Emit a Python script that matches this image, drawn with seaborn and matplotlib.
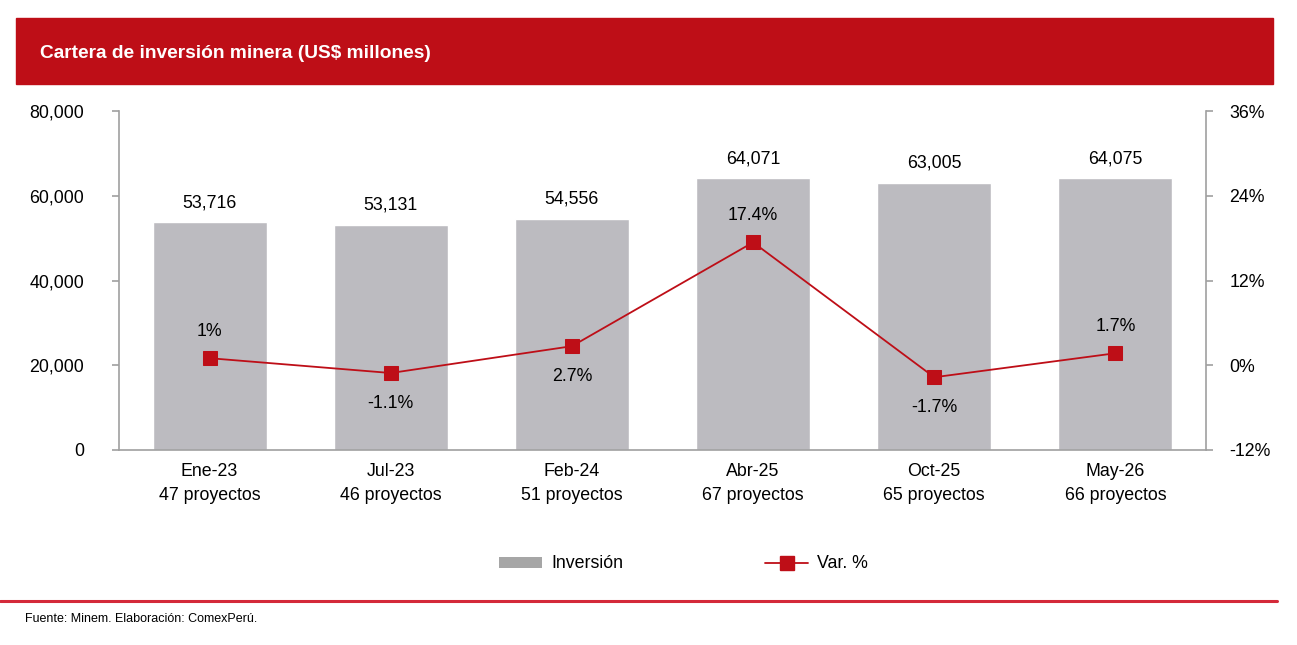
import numpy as np
import pandas as pd
import matplotlib
matplotlib.use("Agg")
import matplotlib.pyplot as plt
import seaborn as sns
from matplotlib.patches import Rectangle, Patch
from matplotlib.lines import Line2D
from matplotlib.ticker import FuncFormatter, FixedLocator

# DATA
periodos = ["Ene-23", "Jul-23", "Feb-24", "Abr-25", "Oct-25", "May-26"]
proyectos = [47, 46, 51, 67, 65, 66]
inversion = [53716, 53131, 54556, 64071, 63005, 64075]
var_pct = [1.0, -1.1, 2.7, 17.4, -1.7, 1.7]
var_txt = ["1%", "-1.1%", "2.7%", "17.4%", "-1.7%", "1.7%"]
var_arriba = [True, False, False, True, False, True]

ROJO = "#BE0E17"
GRIS_BAR = "#BCBBC0"
GRIS_EJE = "#A0A0A0"
FS = 12.8

sns.set_style("white")
plt.rcParams["font.family"] = ["Liberation Sans", "DejaVu Sans"]
plt.rcParams["text.color"] = "black"
plt.rcParams["xtick.labelcolor"] = "black"
plt.rcParams["ytick.labelcolor"] = "black"

fig = plt.figure(figsize=(12.97, 6.45), dpi=100)
ax = fig.add_axes([119 / 1297, 1 - 450 / 645, (1206 - 119) / 1297, 339 / 645])

df = pd.DataFrame({"periodo": periodos, "inversion": inversion})
sns.barplot(data=df, x="periodo", y="inversion", color=GRIS_BAR, width=0.63,
            saturation=1, ax=ax)
ax.bar_label(ax.containers[0], labels=[f"{v:,}" for v in inversion],
             padding=8, fontsize=FS, color="black")

ax.set_ylim(0, 80000)
ax.set_xlim(-0.5, 5.5)
ax.set_yticks(range(0, 80001, 20000))
ax.yaxis.set_major_formatter(FuncFormatter(lambda v, p: f"{int(v):,}"))
ax.set_xticks(range(6))
ax.set_xticklabels([f"{p}\n{n} proyectos" for p, n in zip(periodos, proyectos)],
                   linespacing=1.6)
ax.xaxis.set_minor_locator(FixedLocator(np.arange(-0.5, 6, 1)))
ax.tick_params(axis="x", which="major", length=0, pad=9, labelsize=FS)
ax.tick_params(axis="x", which="minor", length=6, width=1.2, color=GRIS_EJE, direction="out")
ax.tick_params(axis="y", length=5, width=1.2, color=GRIS_EJE, pad=20, labelsize=FS, left=True)
ax.set_xlabel("")
ax.set_ylabel("")
for s in ["top", "right"]:
    ax.spines[s].set_visible(False)
for s in ["left", "bottom"]:
    ax.spines[s].set_color(GRIS_EJE)
    ax.spines[s].set_linewidth(1.2)

ax2 = ax.twinx()
x_pos = np.arange(len(periodos))
sns.lineplot(x=x_pos, y=var_pct, ax=ax2, color=ROJO, linewidth=1.3,
             marker="s", markersize=10, markeredgecolor=ROJO)
ax2.set_ylim(-12, 36)
ax2.set_yticks(range(-12, 37, 12))
ax2.yaxis.set_major_formatter(FuncFormatter(lambda v, p: f"{int(v)}%"))
ax2.tick_params(axis="y", length=5, width=1.2, color=GRIS_EJE, pad=12, labelsize=FS, right=True)
ax2.set_xlim(-0.5, 5.5)
for s in ["top", "left", "bottom"]:
    ax2.spines[s].set_visible(False)
ax2.spines["right"].set_color(GRIS_EJE)
ax2.spines["right"].set_linewidth(1.2)
for xi, yi, t, up in zip(x_pos, var_pct, var_txt, var_arriba):
    ax2.annotate(t, (xi, yi), xytext=(0, 19 if up else -22), textcoords="offset points",
                 ha="center", va="center", fontsize=FS)

# header band
fig.patches.append(Rectangle((16 / 1297, 1 - 84 / 645), (1273 - 16) / 1297, 66 / 645,
                             transform=fig.transFigure, color=ROJO, zorder=0))
fig.text(40 / 1297, 1 - 53 / 645, "Cartera de inversión minera (US$ millones)",
         color="white", fontsize=13.8, fontweight="bold", va="center", ha="left")

# legend
handles = [Patch(facecolor="#A6A6A6", edgecolor="none"),
           Line2D([], [], color=ROJO, linewidth=1.3, marker="s", markersize=10)]
fig.legend(handles, ["Inversión", "Var. %"], loc="center", bbox_to_anchor=(0.527, 1 - 564 / 645),
           ncol=2, frameon=False, fontsize=FS, handlelength=2.4, handleheight=0.6,
           columnspacing=8.0, handletextpad=0.5)

# bottom rule and source
fig.add_artist(Line2D([0, 1277 / 1297], [1 - 601 / 645] * 2, transform=fig.transFigure,
                      color="#D42A3A", linewidth=2.2))
fig.text(25 / 1297, 1 - 619 / 645, "Fuente: Minem. Elaboración: ComexPerú.",
         fontsize=9, va="center", ha="left")

fig.savefig("out.png", dpi=100)
